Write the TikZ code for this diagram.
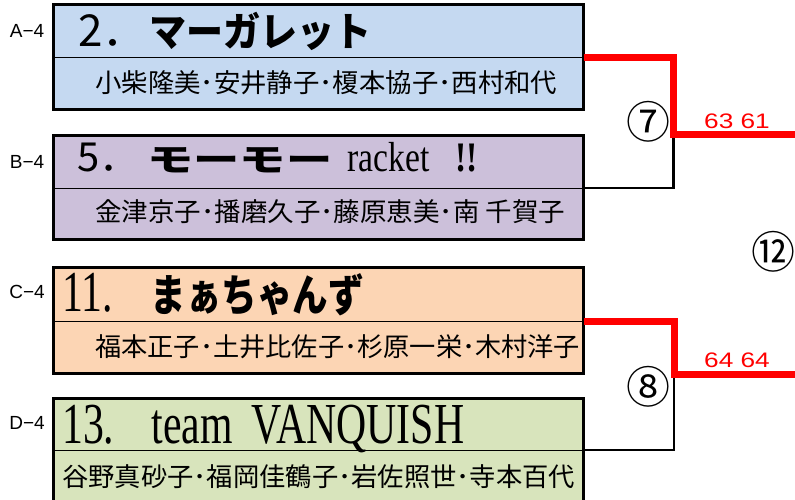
\documentclass[tikz,border=0pt]{standalone}
\usepackage{fontspec}
\usepackage{graphicx}
\setmainfont{Liberation Serif}
\newfontfamily\jp{Noto Sans CJK JP}
\newfontfamily\ser[FakeStretch=0.72]{Liberation Serif}
\newfontfamily\serb[FakeStretch=0.80]{Liberation Serif}
\newfontfamily\ars{Liberation Sans}
\newfontfamily\scr[FakeStretch=1.25]{Liberation Sans}
\newcommand\fitw[2]{\resizebox{#1}{\height}{#2}}
\definecolor{cA}{RGB}{197,217,241}
\definecolor{cB}{RGB}{204,192,218}
\definecolor{cC}{RGB}{252,213,180}
\definecolor{cD}{RGB}{216,228,188}
\definecolor{wred}{RGB}{255,0,0}
\begin{document}
\begin{tikzpicture}[x=1pt,y=-1pt,
  part/.style={draw=black,line width=1pt,inner sep=0pt,outer sep=0pt,anchor=north west,minimum width=530pt},
  outer/.style={draw=black,line width=3pt},
  mem/.style={anchor=west,inner sep=0pt,font=\jp\fontsize{26}{26}\selectfont},
  ttl/.style={anchor=base west,inner sep=0pt},
  lab/.style={inner sep=0pt,font=\ars\fontsize{19}{19}\selectfont},
  score/.style={inner sep=0pt,text=wred,font=\scr\fontsize{21}{21}\selectfont},
  circ/.style={inner sep=0pt,font=\jp\fontsize{44}{44}\selectfont},
  win/.style={draw=wred,line width=7pt},
  lose/.style={draw=black,line width=2.5pt}]
\useasboundingbox (0,0) rectangle (795,499);
\clip (0,0) rectangle (795,499);
% boxes
\node[part,fill=cA,minimum height=53pt] (tA) at (53.5,4) {};
\node[part,fill=cA,minimum height=52pt] (mA) at (53.5,57) {};
\node[part,fill=cB,minimum height=53pt] (tB) at (53.5,135) {};
\node[part,fill=cB,minimum height=51pt] (mB) at (53.5,188) {};
\node[part,fill=cC,minimum height=54pt] (tC) at (53.5,267) {};
\node[part,fill=cC,minimum height=52pt] (mC) at (53.5,321) {};
\node[part,fill=cD,minimum height=52pt] (tD) at (53.5,398) {};
\node[part,fill=cD,minimum height=60pt] (mD) at (53.5,450) {};
\draw[outer] (tA.north west) rectangle (mA.south east);
\draw[outer] (tB.north west) rectangle (mB.south east);
\draw[outer] (tC.north west) rectangle (mC.south east);
\draw[outer] (tD.north west) rectangle (mD.south east);
% labels
\node[lab] (lA) at (27,31) {A−4};
\node[lab] (lB) at (27,162) {B−4};
\node[lab] (lC) at (27,292) {C−4};
\node[lab] (lD) at (27,423) {D−4};
% titles
\node[ttl] (nA) at (78,46) {{\jp\fontsize{44}{44}\selectfont 2．}\hspace{3pt}\fitw{222pt}{\jp\bfseries\fontsize{40}{40}\selectfont マーガレット}};
\node[ttl] (nB) at (77,171) {{\jp\fontsize{40}{40}\selectfont 5．}\hspace{8pt}\fitw{185pt}{\jp\bfseries\fontsize{32}{32}\selectfont モーモー}\hspace{15pt}{\serb\fontsize{42}{42}\selectfont racket\hspace{26pt}\bfseries !!}};
\node[ttl] (nC) at (62,311) {{\ser\fontsize{58}{58}\selectfont 11.}\hspace{38pt}\fitw{213pt}{\jp\bfseries\fontsize{44}{44}\selectfont まぁちゃんず}};
\node[ttl] (nD) at (62,443) {{\ser\fontsize{58}{58}\selectfont 13.\hspace{37pt}team\hspace{19pt}VANQUISH}};
% members
\node[mem] (pA) at (95,83) {\fitw{462pt}{小柴隆美･安井静子･榎本協子･西村和代}};
\node[mem] (pB) at (95,212) {\fitw{470pt}{金津京子･播磨久子･藤原恵美･南 千賀子}};
\node[mem] (pC) at (95,347) {\fitw{485pt}{福本正子･土井比佐子･杉原一栄･木村洋子}};
\node[mem] (pD) at (62,477) {\fitw{513pt}{谷野真砂子･福岡佳鶴子･岩佐照世･寺本百代}};
% bracket 7
\coordinate (j7) at (673.5,134.5);
\coordinate (e7) at (795,134.5);
\draw[lose] (mB.north east) -| (j7);
\draw[win] (mA.north east) -| (j7) -- (e7);
\node[circ] (c7) at (648,122) {⑦};
\node[score] (s7) at (737,121) {63 61};
% bracket 8
\coordinate (j8) at (674,374);
\coordinate (e8) at (795,374);
\draw[lose] (mD.north east) -| (j8);
\draw[win] (mC.north east) -| (j8) -- (e8);
\node[circ] (c8) at (648,387) {⑧};
\node[score] (s8) at (737,360) {64 64};
% round 12
\node[circ] (c12) at (773,252) {⑫};
\end{tikzpicture}
\end{document}
